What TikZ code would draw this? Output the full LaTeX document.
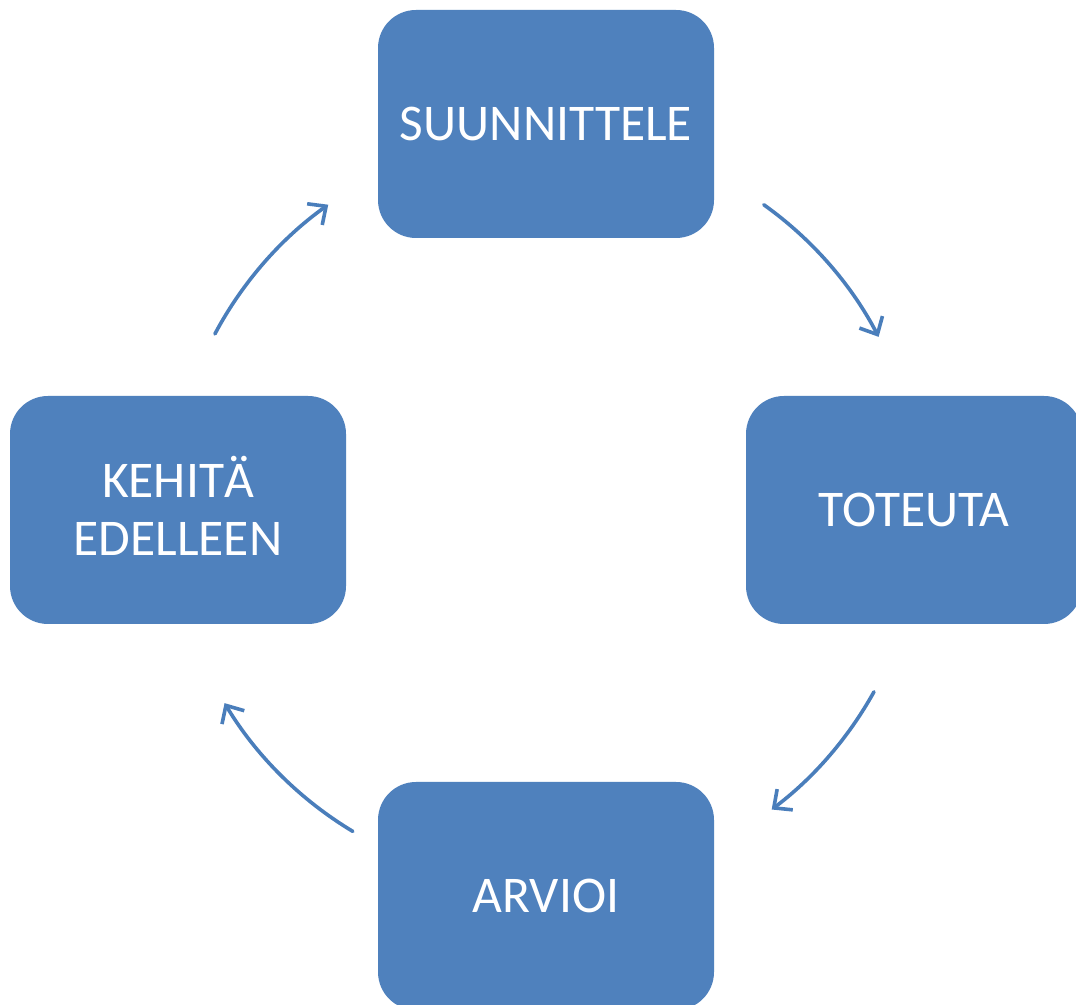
\documentclass[tikz,border=0pt]{standalone}
\usepackage{fontspec}
\setmainfont{Carlito}
\usetikzlibrary{arrows.meta}
\definecolor{boxblue}{HTML}{4F81BD}
\definecolor{arrblue}{HTML}{4A7EBB}
\tikzset{
  stepbox/.style={draw=none, fill=boxblue, rounded corners=38pt,
    minimum width=336pt, minimum height=228pt, inner sep=0pt,
    text=white, align=center, font=\fontsize{51.5}{58}\selectfont},
  cyclearrow/.style={draw=arrblue, line width=3.6pt, line cap=round,
    -{Straight Barb[length=14pt,width=26pt,line width=3.6pt]}}
}
\begin{document}
\begin{tikzpicture}[x=1pt,y=1pt]
  \useasboundingbox (0,0) rectangle (1076,1004);
  \clip (0,0) rectangle (1076,1004);
  \fill[white] (0,0) rectangle (1076,1004);
  \coordinate (ctr) at (546,494);
  \node[stepbox] (plan) at (546,880) {SUUNNITTELE};
  \node[stepbox] (do) at (914,494) {TOTEUTA};
  \node[stepbox] (eval) at (546,108) {ARVIOI};
  \node[stepbox] (dev) at (178,494) {KEHIT\smash{Ä}\\EDELLEEN};
  \coordinate (a1) at ([shift={(54.5:375)}]ctr);
  \coordinate (a2) at ([shift={(-29:375)}]ctr);
  \coordinate (a3) at ([shift={(239:375)}]ctr);
  \coordinate (a4) at ([shift={(152:375)}]ctr);
  \draw[cyclearrow] (a1) arc[start angle=54.5, end angle=27.5, radius=375];
  \draw[cyclearrow] (a2) arc[start angle=-29, end angle=-53, radius=375];
  \draw[cyclearrow] (a3) arc[start angle=239, end angle=211, radius=375];
  \draw[cyclearrow] (a4) arc[start angle=152, end angle=125.5, radius=375];
\end{tikzpicture}
\end{document}
